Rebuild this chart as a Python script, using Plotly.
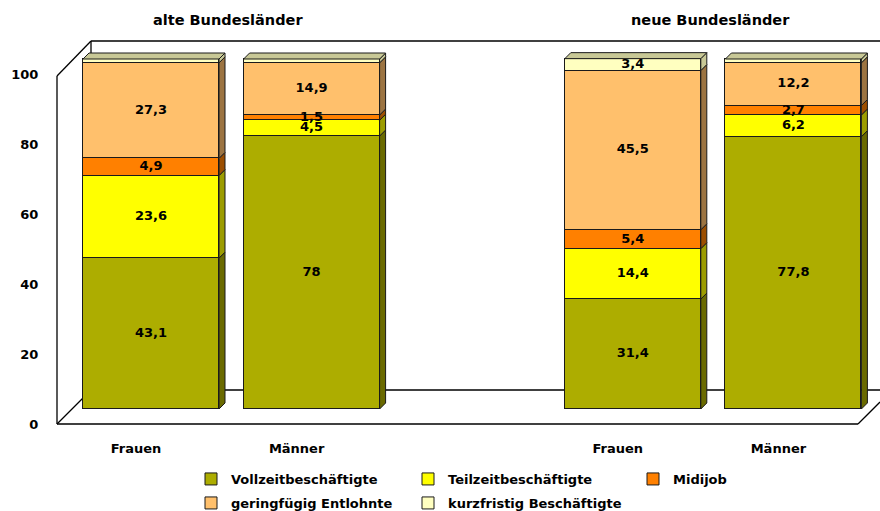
import plotly.graph_objects as go

# ---------------- data ----------------
group_titles = ["alte Bundesländer", "neue Bundesländer"]
group_centers = [0.5, 3.5]
categories = ["Frauen", "Männer", "Frauen", "Männer"]
x_pos = [0, 1, 3, 4]

series_names = ["Vollzeitbeschäftigte", "Teilzeitbeschäftigte", "Midijob",
                "geringfügig Entlohnte", "kurzfristig Beschäftigte"]
vollzeit = [43.1, 78.0, 31.4, 77.8]
teilzeit = [23.6, 4.5, 14.4, 6.2]
midijob = [4.9, 1.5, 5.4, 2.7]
geringfuegig = [27.3, 14.9, 45.5, 12.2]
kurzfristig = [1.1, 1.1, 3.4, 1.1]
series_values = [vollzeit, teilzeit, midijob, geringfuegig, kurzfristig]

y_ticks = [0, 20, 40, 60, 80, 100]

# ---------------- style ----------------
front_colors = ["#ADAD00", "#FFFF00", "#FF8000", "#FFC06C", "#FFFFC0"]
side_colors = ["#6A6A00", "#9C9C00", "#9C4E00", "#9C7442", "#C8C896"]
top_color = "#C8C896"
edge = "#1A1A1A"
FONT = "DejaVu Sans, Liberation Sans, Arial, sans-serif"
legend_of_series = ["legend", "legend", "legend2", "legend3", "legend3"]

W, H = 880, 511
ML, MR, MT, MB = 57, 0, 41, 87
PX_X = 160.6          # pixels per x unit
X0_PX = 151           # pixel of x = 0
PX_Y = 3.5            # pixels per y unit
Y0_PX = 409           # pixel of y = 0 (bar front face)
plot_w = W - ML - MR
plot_h = H - MT - MB
x_range = [(ML - X0_PX) / PX_X, (W - MR - X0_PX) / PX_X]
y_range = [(Y0_PX - (H - MB)) / PX_Y, (Y0_PX - MT) / PX_Y]
bar_w = 136 / PX_X
dx = 6 / PX_X
dy = 6 / PX_Y
label_shift = 15 / PX_X


def fmt(v):
    return f"{v:g}".replace(".", ",")


fig = go.Figure()
shapes = []

# front faces
for name, vals, col, lg in zip(series_names, series_values, front_colors, legend_of_series):
    fig.add_trace(go.Bar(
        x=x_pos, y=vals, name=name, width=bar_w,
        marker=dict(color=col, line=dict(color=edge, width=1)),
        hoverinfo="skip", legend=lg,
    ))

# side and top faces, value labels
lab_x, lab_y, lab_t = [], [], []
for i, xc in enumerate(x_pos):
    base = 0.0
    x1 = xc + bar_w / 2
    x0 = xc - bar_w / 2
    for s, vals in enumerate(series_values):
        v = vals[i]
        y0, y1 = base, base + v
        shapes.append(dict(
            type="path", xref="x", yref="y", layer="above",
            path=f"M{x1},{y0} L{x1+dx},{y0+dy} L{x1+dx},{y1+dy} L{x1},{y1} Z",
            fillcolor=side_colors[s], line=dict(color=edge, width=1)))
        if v >= 1.4:
            lab_x.append(xc)
            lab_y.append((y0 + y1) / 2)
            lab_t.append(fmt(v))
        base = y1
    shapes.append(dict(
        type="path", xref="x", yref="y", layer="above",
        path=f"M{x0},{base} L{x0+dx},{base+dy} L{x1+dx},{base+dy} L{x1},{base} Z",
        fillcolor=top_color, line=dict(color=edge, width=1)))

fig.add_trace(go.Scatter(
    x=lab_x, y=lab_y, text=lab_t, mode="text", showlegend=False,
    hoverinfo="skip",
    textfont=dict(family=FONT, size=13, color="black", weight="bold")))

# invisible trace for the front-plane axes
fig.add_trace(go.Scatter(x=x_pos, y=[0] * len(x_pos), xaxis="x2", yaxis="y2",
                         mode="markers", marker=dict(opacity=0),
                         showlegend=False, hoverinfo="skip"))


# 3D frame (pixel geometry -> paper coords)
def px(xp):
    return (xp - ML) / plot_w


def py(yp):
    return (H - MB - yp) / plot_h


frame = [((91, 41), (880, 41)), ((91, 41), (91, 390)), ((91, 390), (880, 390)),
         ((91, 41), (57, 76)), ((57, 76), (57, 424)), ((91, 390), (57, 424)),
         ((57, 424), (858, 424)), ((858, 424), (880, 402))]
for (a, b) in frame:
    shapes.append(dict(type="line", xref="paper", yref="paper", layer="below",
                       x0=px(a[0]), y0=py(a[1]), x1=px(b[0]), y1=py(b[1]),
                       line=dict(color="black", width=1.3)))

annotations = []
for t, gc in zip(group_titles, group_centers):
    annotations.append(dict(text=t, x=gc - 3 / PX_X, y=py(20), xref="x", yref="paper",
                            showarrow=False, xanchor="center", yanchor="middle",
                            font=dict(family=FONT, size=14.5, color="black", weight="bold")))

legend_font = dict(family=FONT, size=13, color="black", weight="bold")


def legend_box(x_px, y_px, ew):
    return dict(orientation="h", x=px(x_px), y=py(y_px), xanchor="left", yanchor="top",
                entrywidth=ew, entrywidthmode="pixels", itemwidth=30,
                traceorder="normal", bgcolor="rgba(0,0,0,0)", font=legend_font)


fig.update_layout(
    width=W, height=H,
    margin=dict(l=ML, r=MR, t=MT, b=MB, pad=0, autoexpand=False),
    paper_bgcolor="white", plot_bgcolor="rgba(0,0,0,0)",
    barmode="stack", bargap=0,
    shapes=shapes, annotations=annotations,
    font=dict(family=FONT, size=13, color="black"),
    xaxis=dict(range=x_range, visible=False, fixedrange=True),
    yaxis=dict(range=y_range, visible=False, fixedrange=True),
    xaxis2=dict(range=[x_range[0] + label_shift, x_range[1] + label_shift],
                overlaying="x", anchor="y2", side="bottom",
                tickvals=x_pos, ticktext=categories, showgrid=False, zeroline=False,
                showline=False, ticks="outside", ticklen=12,
                tickcolor="rgba(0,0,0,0)",
                tickfont=dict(family=FONT, size=13, color="black", weight="bold")),
    yaxis2=dict(range=[0, plot_h / PX_Y], overlaying="y", anchor="x2", side="left",
                tickvals=y_ticks, showgrid=False, zeroline=False, showline=False,
                ticks="outside", ticklen=15, tickcolor="rgba(0,0,0,0)",
                tickfont=dict(family=FONT, size=13, color="black", weight="bold")),
    legend=legend_box(191, 464, 172),
    legend2=legend_box(633, 464, 80),
    legend3=legend_box(191, 488, 172),
)

fig.write_html("out.html", config={"displayModeBar": False},
               post_script="document.body.style.margin='0px';document.body.style.overflow='hidden';")
